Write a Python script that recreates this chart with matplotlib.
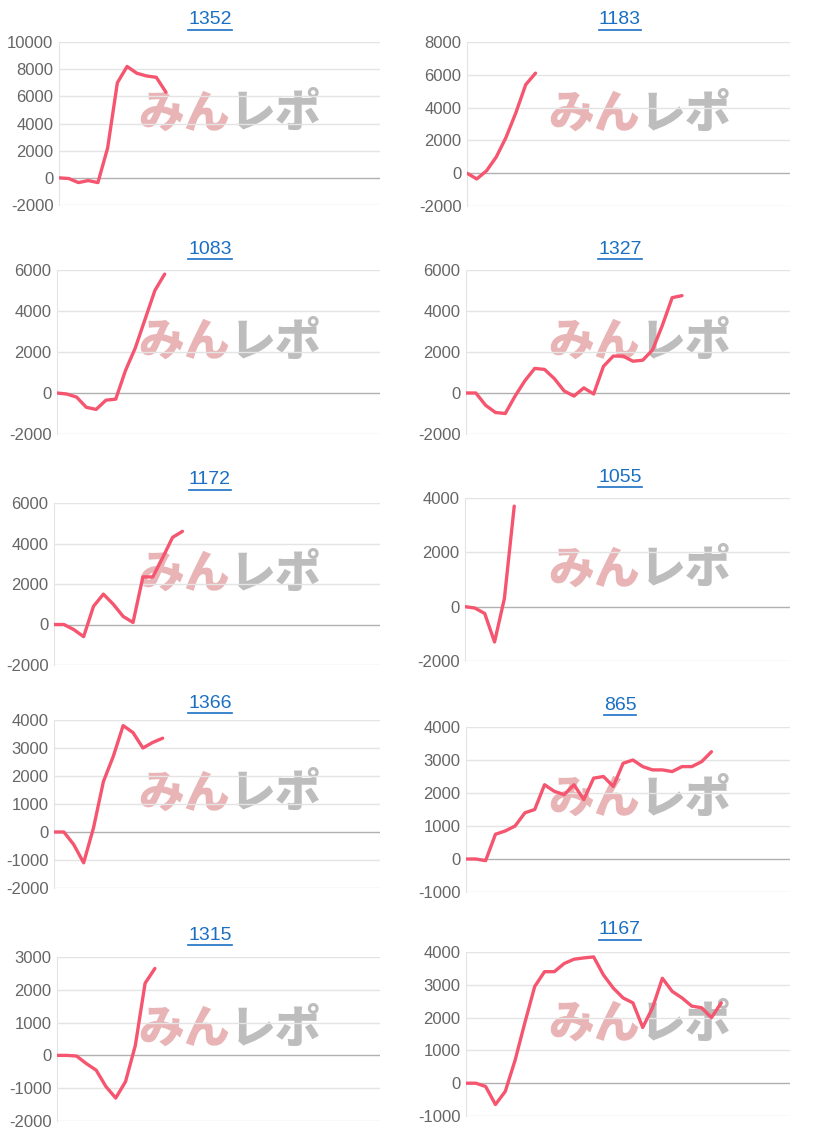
import matplotlib
matplotlib.use("Agg")
import matplotlib.pyplot as plt
from matplotlib.lines import Line2D

titles = ["1352", "1183", "1083", "1327", "1172", "1055", "1366", "865", "1315", "1167"]

v1352 = [0, -50, -350, -200, -350, 2200, 7000, 8200, 7700, 7500, 7400, 6300]
v1183 = [0, -350, 150, 1000, 2200, 3700, 5400, 6100]
v1083 = [0, -50, -200, -700, -800, -350, -300, 1100, 2200, 3600, 5000, 5800]
v1327 = [0, 0, -600, -950, -1000, -150, 600, 1200, 1150, 700, 100, -150, 250, -50,
         1300, 1800, 1800, 1550, 1600, 2100, 3300, 4650, 4750]
v1172 = [0, 0, -250, -600, 900, 1500, 1000, 400, 100, 2350, 2350, 3300, 4300, 4600]
v1055 = [0, -50, -250, -1300, 300, 3700]
v1366 = [0, 0, -450, -1100, 150, 1800, 2700, 3800, 3550, 3000, 3200, 3350]
v865 = [0, 0, -50, 750, 850, 1000, 1400, 1500, 2250, 2050, 1950, 2250, 1800, 2450,
        2500, 2200, 2900, 3000, 2800, 2700, 2700, 2650, 2800, 2800, 2950, 3250]
v1315 = [0, 0, -20, -250, -450, -950, -1300, -800, 300, 2200, 2650]
v1167 = [0, 0, -100, -650, -250, 700, 1850, 2950, 3400, 3400, 3650, 3780, 3820, 3850,
         3300, 2900, 2600, 2450, 1700, 2300, 3200, 2800, 2600, 2350, 2300, 2000, 2450]

series = [v1352, v1183, v1083, v1327, v1172, v1055, v1366, v865, v1315, v1167]
yticks = [
    list(range(-2000, 10001, 2000)), list(range(-2000, 8001, 2000)),
    list(range(-2000, 6001, 2000)), list(range(-2000, 6001, 2000)),
    list(range(-2000, 6001, 2000)), list(range(-2000, 4001, 2000)),
    list(range(-2000, 4001, 1000)), list(range(-1000, 4001, 1000)),
    list(range(-2000, 3001, 1000)), list(range(-1000, 4001, 1000)),
]

W, H = 815, 1134
fig = plt.figure(figsize=(W / 100, H / 100), dpi=100)
plt.rcParams["font.family"] = ["Liberation Sans", "DejaVu Sans"]

boxes = [
    (59, 380, 42, 205, 20), (467, 790, 42, 206, 20),
    (57, 380, 270, 434, 249), (466, 790, 270, 434, 249),
    (54, 380, 503, 665, 480), (465, 790, 498, 661, 477),
    (54, 380, 720, 888, 703), (466, 790, 727, 892, 705),
    (57, 380, 957, 1121, 935), (466, 790, 952, 1116, 930),
]

NSLOT = 33
renderer = fig.canvas.get_renderer()
for i, (vals, yt, box, title) in enumerate(zip(series, yticks, boxes, titles)):
    x0, x1, yt_px, yb_px, ty = box
    ax = fig.add_axes([x0 / W, 1 - yb_px / H, (x1 - x0) / W, (yb_px - yt_px) / H])
    ax.set_zorder(2)
    ax.set_xlim(0, NSLOT)
    ax.set_ylim(yt[0], yt[-1])
    ax.set_yticks(yt)
    ax.set_yticklabels([str(t) for t in yt])
    ax.set_xticks([])
    for t in yt:
        ax.axhline(t, color="#b0b0b0" if t == 0 else "#e4e4e4", lw=1, zorder=0)
    for s in ["top", "right", "bottom"]:
        ax.spines[s].set_visible(False)
    ax.spines["left"].set_color("#e4e4e4")
    ax.tick_params(axis="y", length=0, labelsize=12, labelcolor="#666666", pad=4)
    ax.patch.set_alpha(0)
    ax.plot(range(len(vals)), vals, color="#f5556f", lw=2.4, zorder=3,
            solid_joinstyle="round", solid_capstyle="round")
    # watermark (below the axes)
    cx = 230 if i % 2 == 0 else 640
    cy = yt_px + (yb_px - yt_px) * 0.44
    fig.text(cx / W, 1 - cy / H, "みん", color="#e8b4b6", fontsize=33,
             fontweight="black", family=["Noto Sans CJK JP"], ha="right", va="center", zorder=1)
    fig.text(cx / W, 1 - cy / H, "レポ", color="#bdbdbd", fontsize=33,
             fontweight="black", family=["Noto Sans CJK JP"], ha="left", va="center", zorder=1)
    # title
    tcx = 210 if i % 2 == 0 else 620
    txt = fig.text(tcx / W, 1 - ty / H, title, color="#1a6fc4", fontsize=14,
                   ha="center", va="center", zorder=3)
    bb = txt.get_window_extent(renderer)
    uy = bb.y0 - 1
    fig.add_artist(Line2D([bb.x0 / W, bb.x1 / W], [uy / H, uy / H], color="#1a6fc4", lw=1.2))

fig.savefig("out.png", dpi=100)
